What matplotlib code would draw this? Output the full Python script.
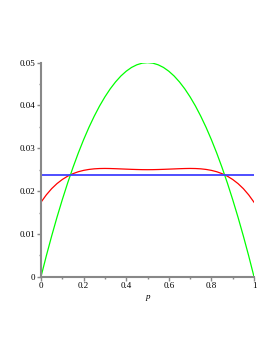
import numpy as np
import matplotlib
matplotlib.use('Agg')
import matplotlib.pyplot as plt
from matplotlib.ticker import MultipleLocator

# values
p = [0.0, 0.025, 0.05, 0.075, 0.1, 0.125, 0.15, 0.175, 0.2, 0.225,
     0.25, 0.275, 0.3, 0.325, 0.35, 0.375, 0.4, 0.425, 0.45, 0.475, 0.5,
     0.525, 0.55, 0.575, 0.6, 0.625, 0.65, 0.675, 0.7, 0.725, 0.75,
     0.775, 0.8, 0.825, 0.85, 0.875, 0.9, 0.925, 0.95, 0.975, 1.0]
green = [0.0, 0.00488, 0.0095, 0.01388, 0.018, 0.02188, 0.0255, 0.02888, 0.032, 0.03488,
         0.0375, 0.03988, 0.042, 0.04388, 0.0455, 0.04688, 0.048, 0.04888, 0.0495, 0.04988, 0.05,
         0.04988, 0.0495, 0.04888, 0.048, 0.04688, 0.0455, 0.04388, 0.042, 0.03988, 0.0375,
         0.03488, 0.032, 0.02888, 0.0255, 0.02188, 0.018, 0.01388, 0.0095, 0.00488, 0.0]
red = [0.0174, 0.01912, 0.02057, 0.02175, 0.02271, 0.02348, 0.02407, 0.02452, 0.02484, 0.02506,
       0.0252, 0.02527, 0.02529, 0.02527, 0.02523, 0.02518, 0.02513, 0.02508, 0.02504, 0.02501, 0.025,
       0.02501, 0.02504, 0.02508, 0.02513, 0.02518, 0.02523, 0.02527, 0.02529, 0.02527, 0.0252,
       0.02506, 0.02484, 0.02452, 0.02407, 0.02348, 0.02271, 0.02175, 0.02057, 0.01912, 0.0174]
blue_p = [0.0, 1.0]
blue = [0.02376, 0.02376]

plt.rcParams['font.family'] = 'Liberation Serif'

fig = plt.figure(figsize=(2.77, 3.58), dpi=100)
ax = fig.add_axes([0.148, 0.227, 0.769, 0.598])

ax.plot(p, red, color='#ff0000', lw=0.9)
ax.plot(p, green, color='#00ff00', lw=0.9)
ax.plot(blue_p, blue, color='#4040ff', lw=1.3)

ax.set_xlim(0, 1)
ax.set_ylim(0, 0.05)
ax.xaxis.set_major_locator(MultipleLocator(0.2))
ax.xaxis.set_minor_locator(MultipleLocator(0.1))
ax.yaxis.set_major_locator(MultipleLocator(0.01))
ax.yaxis.set_minor_locator(MultipleLocator(0.005))
ax.xaxis.set_major_formatter(plt.FuncFormatter(lambda v, _: '%g' % round(v, 2)))
ax.yaxis.set_major_formatter(plt.FuncFormatter(lambda v, _: '%g' % round(v, 3)))

for s in ['top', 'right']:
    ax.spines[s].set_visible(False)
for s in ['left', 'bottom']:
    ax.spines[s].set_color('#888888')
    ax.spines[s].set_linewidth(1.5)
ax.tick_params(which='both', direction='out', color='#888888', labelsize=6.5, pad=1)
ax.tick_params(which='major', length=3, width=1)
ax.tick_params(which='minor', length=1.5, width=1)

ax.set_xlabel('p', fontstyle='italic', fontsize=6.5, labelpad=2)

fig.savefig('out.png', dpi=100)
